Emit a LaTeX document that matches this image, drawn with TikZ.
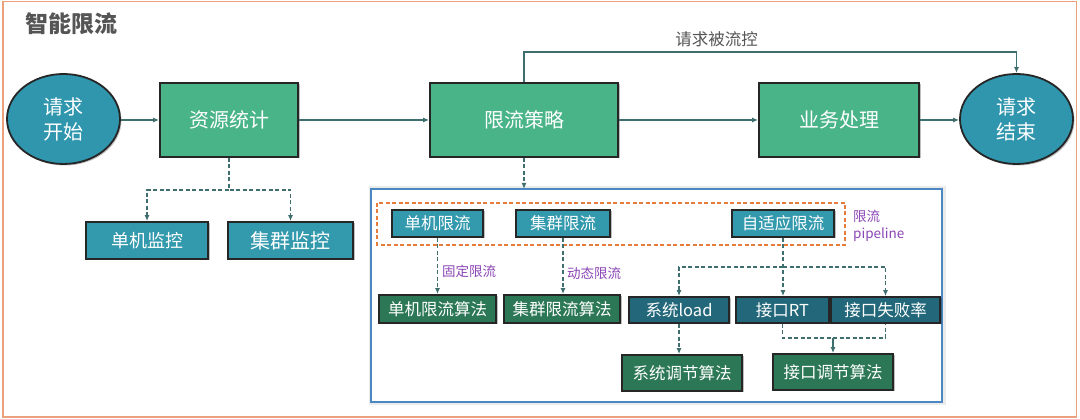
\documentclass[tikz,border=0pt]{standalone}
\usepackage{fontspec}
\newfontfamily\cjk{Noto Sans CJK SC}
\usetikzlibrary{shapes.geometric,arrows.meta,shadows}
\definecolor{mgreen}{HTML}{4AB489}
\definecolor{teal}{HTML}{3399AD}
\definecolor{ellteal}{HTML}{2F96AE}
\definecolor{dgreen}{HTML}{2C7856}
\definecolor{dteal}{HTML}{22687A}
\definecolor{boxline}{HTML}{262626}
\definecolor{conn}{HTML}{3F6E6E}
\definecolor{purp}{HTML}{8B45B5}
\definecolor{orng}{HTML}{E67C3C}
\definecolor{outerc}{HTML}{EDA07C}
\definecolor{bluec}{HTML}{4B87C2}
\definecolor{titlec}{HTML}{555555}
\tikzset{
  bigtxt/.style={font=\cjk\fontsize{20}{25}\selectfont},
  midtxt/.style={font=\cjk\fontsize{16.5}{20}\selectfont},
  smalltxt/.style={font=\cjk\fontsize{13.5}{17}\selectfont},
  shad/.style={drop shadow={shadow xshift=1.5pt,shadow yshift=-1.5pt,opacity=0.25,fill=black}},
  basebox/.style={draw=boxline, line width=1.8pt, text=white, inner sep=0pt, align=center, shad},
  mainbox/.style={basebox, fill=mgreen, bigtxt, minimum width=#1, minimum height=74pt},
  ell/.style={basebox, ellipse, fill=ellteal, bigtxt, minimum width=113pt, minimum height=90pt},
  monbox/.style={basebox, fill=teal, minimum height=37pt},
  selbox/.style={basebox, fill=teal, midtxt, minimum height=27pt},
  algbox/.style={basebox, fill=dgreen, midtxt},
  metbox/.style={basebox, fill=dteal, midtxt, minimum height=26pt},
  arr/.style={draw=conn, line width=1.6pt, -{Latex[length=6pt,width=5pt]}},
  darr/.style={draw=conn, line width=1.8pt, dash pattern=on 4pt off 2.5pt, -{Latex[length=6pt,width=5pt]}},
  dline/.style={draw=conn, line width=1.8pt, dash pattern=on 4pt off 2.5pt},
  lbl/.style={smalltxt, text=purp, inner sep=0pt},
}
\begin{document}
\begin{tikzpicture}[x=1pt,y=-1pt]
\useasboundingbox (0,0) rectangle (1080,419);
\fill[white] (0,0) rectangle (1080,419);
\draw[outerc, line width=1.8pt] (3,1.5) rectangle (1076.5,417);
\node[font=\cjk\bfseries\fontsize{23}{26}\selectfont, text=titlec, anchor=west, inner sep=0pt] (title) at (25,24) {智能限流};

% top flow
\node[ell] (start) at (63.5,119) {请求\\开始};
\node[mainbox=138pt] (res) at (229,120) {资源统计};
\node[mainbox=188pt] (pol) at (524,120) {限流策略};
\node[mainbox=160pt] (biz) at (839,120) {业务处理};
\node[ell] (end) at (1016.5,119) {请求\\结束};

\draw[arr] (start.east |- res.west) -- (res.west);
\draw[arr] (res.east) -- (pol.west);
\draw[arr] (pol.east) -- (biz.west);
\draw[arr] (biz.east) -- (end.west |- biz.east);
\draw[arr] (pol.north) -- ++(0,-30) -| (end.north);
\node[midtxt, text=titlec, inner sep=0pt] (flowlbl) at (716.5,39) {请求被流控};

% monitoring
\node[monbox, font=\cjk\fontsize{18}{22}\selectfont, minimum width=122pt] (mon1) at (147,240.5) {单机监控};
\node[monbox, bigtxt, minimum width=125pt] (mon2) at (290.5,240.5) {集群监控};
\draw[darr] (res.south) -- ++(0,32) -| (mon1.north);
\draw[darr] (res.south) -- ++(0,32) -| (mon2.north);

% container
\fill[black!8] (368.5,186.5) rectangle (945.5,405.5);
\fill[white] (372,190) rectangle (941,401);
\draw[bluec, line width=1.6pt] (371,189) rectangle (942,402);
\coordinate (conttop) at (524,189);
\draw[darr] (pol.south) -- (conttop);

\draw[orng, line width=1.6pt, dash pattern=on 4pt off 2.5pt] (377,203) rectangle (845,245);
\node[lbl, align=left, anchor=north west] (pipe) at (853,210) {限流\\pipeline};

\node[selbox, minimum width=91pt] (s1) at (437.5,223.5) {单机限流};
\node[selbox, minimum width=94pt] (s2) at (563,223.5) {集群限流};
\node[selbox, minimum width=102pt] (s3) at (783,223.5) {自适应限流};

\node[algbox, minimum width=117pt, minimum height=28pt] (a1) at (437.5,309) {单机限流算法};
\node[algbox, minimum width=116pt, minimum height=28pt] (a2) at (562,309) {集群限流算法};

\node[metbox, minimum width=100pt] (m1) at (679,310) {系统load};
\node[metbox, minimum width=93pt] (m2) at (782.5,310) {接口RT};
\node[metbox, minimum width=109pt] (m3) at (885.5,310) {接口失败率};

\node[algbox, minimum width=120pt, minimum height=36pt] (b1) at (682,373) {系统调节算法};
\node[algbox, minimum width=120pt, minimum height=36pt] (b2) at (833,372) {接口调节算法};

\draw[darr] (s1.south) -- (a1.north);
\node[lbl, anchor=west] (fix) at (442,271) {固定限流};
\draw[darr] (s2.south) -- (s2.south |- a2.north);
\node[lbl, anchor=west] (dyn) at (567,273) {动态限流};

\draw[darr] (s3.south) -- (s3.south |- m2.north);
\coordinate (hsplit) at (783,267);
\draw[darr] (hsplit) -| (m1.north);
\draw[darr] (hsplit) -| (m3.north);

\draw[darr] (m1.south) -- (m1.south |- b1.north);
\coordinate (jc) at (833,338);
\draw[dline] (m2.south) |- (jc) -| (m3.south);
\draw[arr] (jc) -- (b2.north);
\end{tikzpicture}
\end{document}
